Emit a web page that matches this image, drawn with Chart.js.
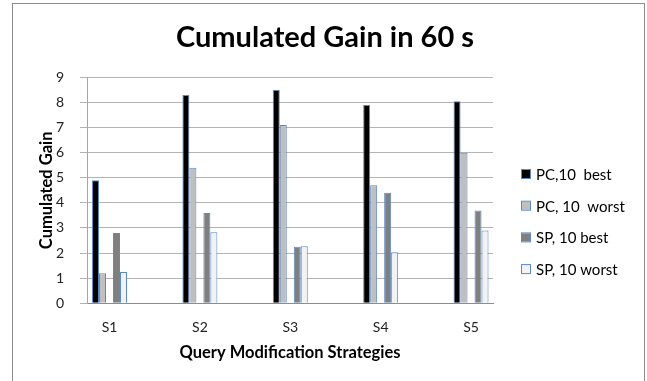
<!DOCTYPE html>
<html>
<head>
<meta charset="utf-8">
<script src="https://cdn.jsdelivr.net/npm/chart.js@4.4.0/dist/chart.umd.min.js"></script>
<style>
  html, body { margin: 0; padding: 0; background: #fff; }
  #wrap { width: 647px; height: 381px; }
</style>
</head>
<body>
<div id="wrap"><canvas id="gainChart" width="647" height="381"></canvas></div>
<script>
// cumulated gain per query modification strategy
const strategies = ['S1', 'S2', 'S3', 'S4', 'S5'];
const pcBest = [4.9, 8.3, 8.5, 7.9, 8.05];
const pcWorst = [1.2, 5.4, 7.1, 4.7, 6.0];
const spBest = [2.8, 3.6, 2.25, 4.4, 3.7];
const spWorst = [1.25, 2.83, 2.27, 2.03, 2.9];
const yMin = 0;
const yMax = 9;

const FONT = 'Lato, "Liberation Sans", sans-serif';
const BAR_EDGE = '#5b8ac6';

const points = vals => vals.map((v, i) => ({ x: i, y: v }));

const series = [
    { label: 'PC,10  best', data: points(pcBest), backgroundColor: '#000000' },
    { label: 'PC, 10  worst', data: points(pcWorst), backgroundColor: '#bfbfbf' },
    // empty slot between the PC and SP pairs
    { label: '', data: points(strategies.map(() => null)), backgroundColor: 'transparent' },
    { label: 'SP, 10 best', data: points(spBest), backgroundColor: '#7f7f7f' },
    { label: 'SP, 10 worst', data: points(spWorst), backgroundColor: '#f2f2f2' }
];

// frame, chart title and legend
const decorations = {
    id: 'decorations',
    beforeDraw(chart) {
        const ctx = chart.ctx;
        ctx.save();
        ctx.fillStyle = '#fff';
        ctx.fillRect(0, 0, chart.width, chart.height);
        ctx.strokeStyle = '#8c8c8c';
        ctx.lineWidth = 1;
        ctx.strokeRect(12.5, 3.5, 632, 400);
        ctx.restore();
    },
    afterDraw(chart) {
        const ctx = chart.ctx;
        ctx.save();
        ctx.fillStyle = '#000';
        ctx.textBaseline = 'middle';

        ctx.textAlign = 'center';
        ctx.font = 'bold 29px ' + FONT;
        ctx.fillText('Cumulated Gain in 60 s', 325, 38);

        ctx.textAlign = 'left';
        ctx.font = '15px ' + FONT;
        let y = 174;
        chart.data.datasets.filter(d => d.label).forEach(d => {
            ctx.fillStyle = d.backgroundColor;
            ctx.fillRect(522, y - 4, 8, 8);
            ctx.strokeStyle = BAR_EDGE;
            ctx.strokeRect(521.5, y - 4.5, 9, 9);
            ctx.fillStyle = '#000';
            ctx.fillText(d.label, 536, y + 1);
            y += 31.7;
        });
        ctx.restore();
    }
};

const axisTitleFont = { family: FONT, size: 16.5, weight: 'bold' };

new Chart(document.getElementById('gainChart'), {
    type: 'bar',
    data: { datasets: series },
    options: {
        responsive: false,
        animation: false,
        layout: { padding: { top: 77.3, right: 154, bottom: 0, left: 0 } },
        datasets: {
            bar: {
                borderColor: BAR_EDGE,
                borderWidth: 1,
                categoryPercentage: 0.387,
                barPercentage: 1
            }
        },
        plugins: {
            legend: { display: false },
            title: { display: false },
            tooltip: { enabled: false }
        },
        scales: {
            x: {
                type: 'linear',
                offset: false,
                min: -0.249,
                max: 4.243,
                afterFit: scale => { scale.height = 77.7; },
                grid: { display: false, offset: false },
                border: { color: '#8c8c8c' },
                ticks: {
                    stepSize: 1,
                    includeBounds: false,
                    padding: 8,
                    color: '#222',
                    font: { family: FONT, size: 14 },
                    callback: v => strategies[v] ?? ''
                },
                title: {
                    display: true,
                    text: 'Query Modification Strategies',
                    color: '#000',
                    font: axisTitleFont,
                    padding: { top: 0, bottom: 18 }
                }
            },
            y: {
                min: yMin,
                max: yMax,
                afterFit: scale => { scale.width = 87; },
                grid: { color: '#b3b3b3', tickLength: 7 },
                border: { color: '#a6a6a6' },
                ticks: {
                    stepSize: 1,
                    padding: 16,
                    color: '#222',
                    font: { family: FONT, size: 14 }
                },
                title: {
                    display: true,
                    text: 'Cumulated Gain',
                    color: '#000',
                    font: axisTitleFont,
                    padding: { top: 37, bottom: 0 }
                }
            }
        }
    },
    plugins: [decorations]
});
</script>
</body>
</html>
